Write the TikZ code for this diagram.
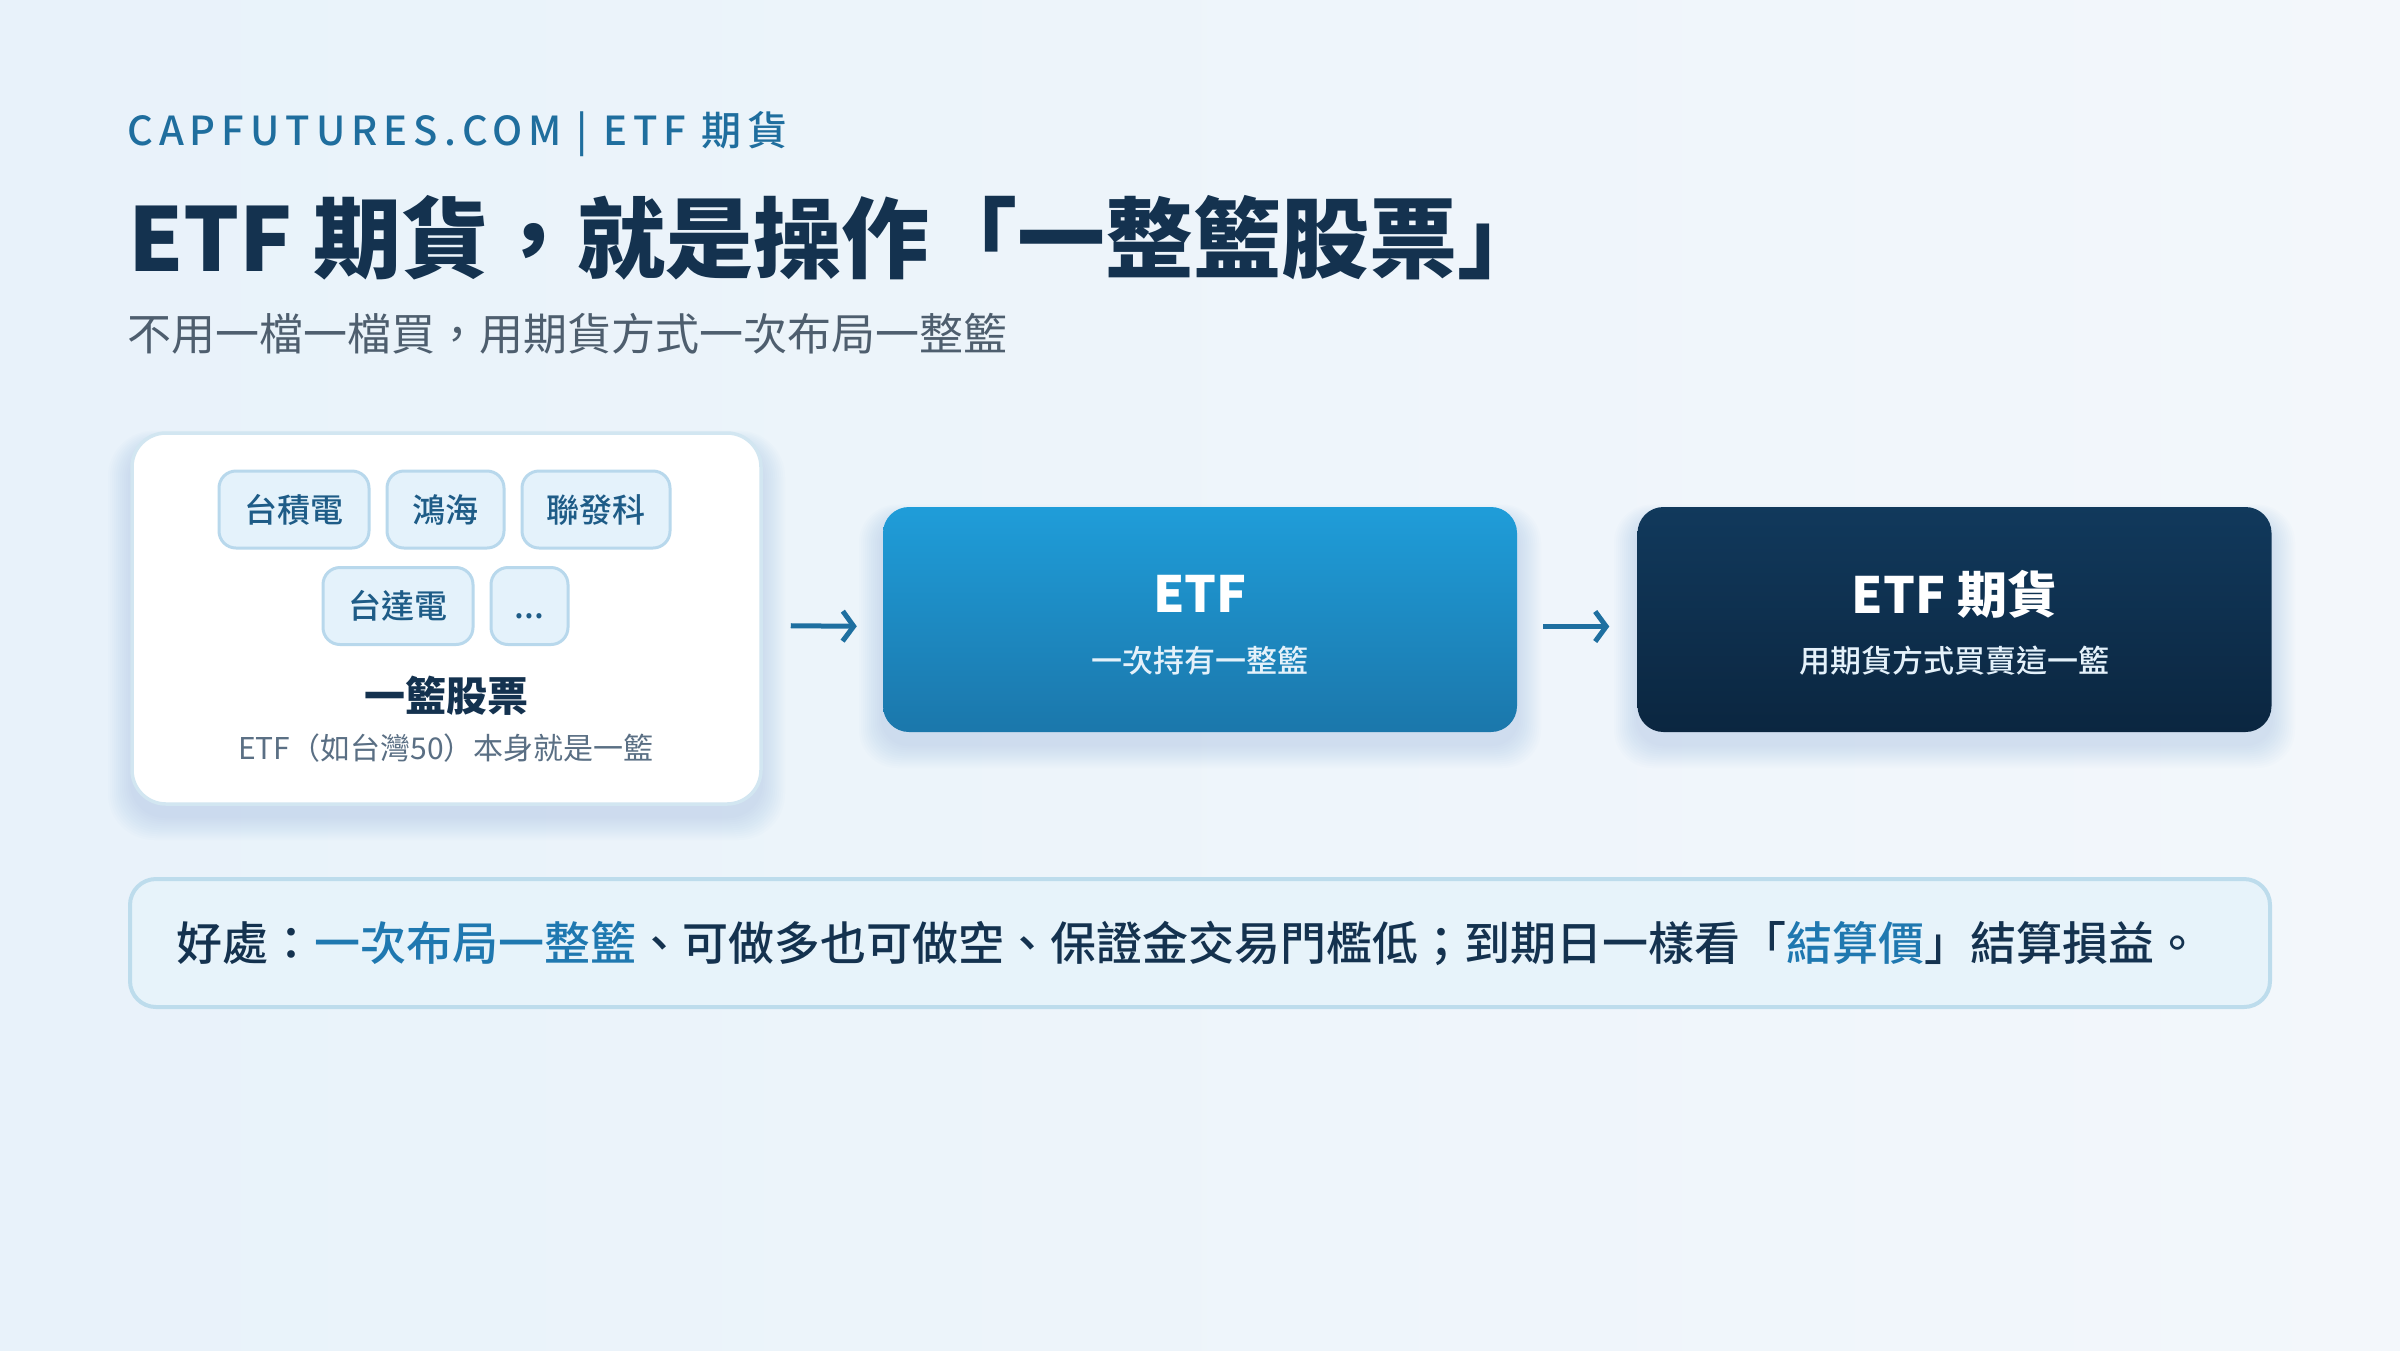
\documentclass[tikz,border=0pt]{standalone}
\usepackage{fontspec}
\setmainfont{Noto Sans CJK TC}
\newfontfamily\hdrfont[LetterSpace=15]{Noto Sans CJK TC Medium}
\newfontfamily\medfont{Noto Sans CJK TC Medium}
\usetikzlibrary{arrows.meta}
\definecolor{bgA}{HTML}{E8F2FA}
\definecolor{bgB}{HTML}{F3F7FB}
\definecolor{navy}{HTML}{14324F}
\definecolor{hdrblue}{HTML}{1F6E9E}
\definecolor{subgrey}{HTML}{4E5E6E}
\definecolor{chipfill}{HTML}{E4F2FB}
\definecolor{chipline}{HTML}{B8D8EC}
\definecolor{chiptext}{HTML}{1E5C87}
\definecolor{cardline}{HTML}{D2E6F1}
\definecolor{cardsub}{HTML}{5A6F84}
\definecolor{etfTop}{HTML}{1F9DD9}
\definecolor{etfBot}{HTML}{1B77AB}
\definecolor{futTop}{HTML}{11395C}
\definecolor{futBot}{HTML}{0B2640}
\definecolor{arrowblue}{HTML}{1E6FA0}
\definecolor{benfill}{HTML}{E7F3FA}
\definecolor{benline}{HTML}{BDDCEC}
\definecolor{hiblue}{HTML}{1F78B0}
\definecolor{shadowblue}{HTML}{5A9CC8}
\definecolor{boxsub}{HTML}{E4F1FA}
\newcommand\pxsize[1]{\fontsize{#1}{#1}\selectfont}
\newcommand\softshadow[5]{%
  \foreach \k in {1,...,12}{%
    \fill[shadowblue, opacity=0.015, rounded corners={(#5+\k)*1pt}]
      (#1-\k*2, #2-\k*1.2+12) rectangle (#3+\k*2, #4+\k*2+12);
  }}
\begin{document}
\begin{tikzpicture}[x=1pt,y=-1pt,
  chip/.style={draw=chipline, fill=chipfill, line width=3pt, rounded corners=17pt,
    minimum height=77pt, inner sep=0pt, text height=29pt, text depth=4pt,
    text=chiptext, font=\medfont\pxsize{33}},
  card/.style={fill=white, draw=cardline, line width=3.5pt, rounded corners=34pt,
    minimum width=629pt, minimum height=371pt, inner sep=0pt},
  flowbox/.style={rounded corners=26pt, minimum width=634pt, minimum height=225pt, inner sep=0pt},
  boxtitle/.style={text=white, font=\bfseries\pxsize{50}, inner sep=0pt},
  boxsubtitle/.style={text=boxsub, font=\medfont\pxsize{31}, inner sep=0pt},
  flowarrow/.style={draw=arrowblue, line width=5pt, -{Straight Barb[length=11pt,width=30pt]}},
  plain/.style={inner sep=0pt, anchor=west},
]
\useasboundingbox (0,0) rectangle (2400,1350);
\shade[left color=bgA, right color=bgB] (0,0) rectangle (2400,1350);

% header texts
\node[plain, text=hdrblue, font=\hdrfont\pxsize{40}] (hdr) at (127,134) {CAPFUTURES.COM | ETF 期貨};
\node[plain, text=navy, font=\bfseries\pxsize{88}] (title) at (128,238) {ETF 期貨，就是操作「一整籃股票」};
\node[plain, text=subgrey, font=\pxsize{44}] (subtitle) at (127,334) {不用一檔一檔買，用期貨方式一次布局一整籃};

% shadows
\softshadow{132}{433}{761}{804}{34}
\softshadow{883}{507}{1517}{732}{26}
\softshadow{1638}{507}{2271}{732}{26}

% basket card
\node[card] (basket) at (446.5,618.5) {};
\node[chip, minimum width=150pt] (c1) at (294,509.5) {台積電};
\node[chip, minimum width=117pt] (c2) at (445.5,509.5) {鴻海};
\node[chip, minimum width=148pt] (c3) at (596,509.5) {聯發科};
\node[chip, minimum width=150pt] (c4) at (398,606) {台達電};
\node[chip, minimum width=77pt] (c5) at (529.5,606) {...};
\node[inner sep=0pt, text=navy, font=\bfseries\pxsize{41}] (blabel) at (446,696) {一籃股票};
\node[inner sep=0pt, text=cardsub, font=\pxsize{30}] (bsub) at (446,748) {ETF（如台灣50）本身就是一籃};

% flow boxes
\node[flowbox, top color=etfTop, bottom color=etfBot] (etf) at (1200,619.5) {};
\node[boxtitle] (etft) at (1200,594) {ETF};
\node[boxsubtitle] (etfs) at (1200,661) {一次持有一整籃};

\node[flowbox, top color=futTop, bottom color=futBot] (fut) at (1954.5,619.5) {};
\node[boxtitle] (futt) at (1954.5,594) {ETF 期貨};
\node[boxsubtitle] (futs) at (1954.5,661) {用期貨方式買賣這一籃};

% arrows
\draw[flowarrow, shorten <=28pt, shorten >=26pt] ([yshift=-7pt]basket.east) -- ([yshift=-7pt]etf.west);
\draw[flowarrow, shorten <=26pt, shorten >=28pt] ([yshift=-7pt]etf.east) -- ([yshift=-7pt]fut.west);

% benefit box
\node[fill=benfill, draw=benline, line width=4pt, rounded corners=26pt,
  minimum width=2140pt, minimum height=128pt, inner sep=0pt] (benefit) at (1200,943) {};
\node[plain, text=navy, font=\medfont\pxsize{46}] (bentext) at (176,943)
  {好處：\textcolor{hiblue}{一次布局一整籃}、可做多也可做空、保證金交易門檻低；到期日一樣看「\textcolor{hiblue}{結算價}」結算損益。};
\end{tikzpicture}
\end{document}
